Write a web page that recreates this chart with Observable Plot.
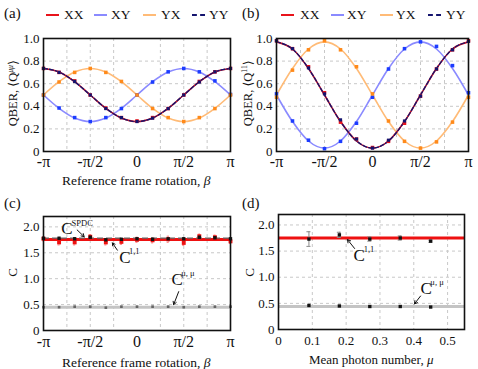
<!DOCTYPE html>
<html><head><meta charset="utf-8">
<script src="https://cdn.jsdelivr.net/npm/d3@7"></script>
<script src="https://cdn.jsdelivr.net/npm/@observablehq/plot@0.6"></script>
<style>
body{margin:0;background:#fff;}
#fig{position:relative;width:478px;height:369px;font-family:"Times New Roman","Liberation Serif","DejaVu Serif",serif;color:#111;overflow:hidden}
.p{position:absolute}
.t{position:absolute;white-space:nowrap;line-height:1}
.sw{position:absolute;width:13px;height:0;border-top:2px solid}
sup{font-size:0.62em;vertical-align:0.55em;line-height:0}
</style></head><body><div id="fig"></div>
<script>
// ---- data ----
const betaSteps = [-6,-5,-4,-3,-2,-1,0,1,2,3,4,5,6]; // units of pi/6
const betaTicks = [-Math.PI, -Math.PI/2, 0, Math.PI/2, Math.PI];
const betaTickLabels = ["-π","-π/2","0","π/2","π"];
const betaGrid = [-3,-2,-1,1,2,3].map(k => k*Math.PI/4);

// panel (a) theory curves sampled at the data positions
const aFitXX = [0.735,0.7035,0.6175,0.5,0.3825,0.2965,0.265,0.2965,0.3825,0.5,0.6175,0.7035,0.735];
const aFitXY = [0.5,0.3825,0.2965,0.265,0.2965,0.3825,0.5,0.6175,0.7035,0.735,0.7035,0.6175,0.5];
const aFitYX = [0.5,0.6175,0.7035,0.735,0.7035,0.6175,0.5,0.3825,0.2965,0.265,0.2965,0.3825,0.5];
const aXX = [0.735,0.70,0.625,0.50,0.385,0.30,0.27,0.30,0.38,0.50,0.62,0.705,0.735];
const aYY = [0.735,0.70,0.62,0.50,0.38,0.30,0.265,0.295,0.38,0.50,0.615,0.705,0.735];
const aXY = [0.50,0.385,0.30,0.265,0.30,0.38,0.50,0.615,0.705,0.735,0.705,0.625,0.505];
const aYX = [0.50,0.615,0.70,0.735,0.70,0.62,0.50,0.38,0.30,0.265,0.30,0.38,0.50];

// panel (b)
const bFitXX = [0.97,0.907,0.735,0.5,0.265,0.093,0.03,0.093,0.265,0.5,0.735,0.907,0.97];
const bFitXY = [0.5,0.265,0.093,0.03,0.093,0.265,0.5,0.735,0.907,0.97,0.907,0.735,0.5];
const bFitYX = [0.5,0.735,0.907,0.97,0.907,0.735,0.5,0.265,0.093,0.03,0.093,0.265,0.5];
const bXX = [0.98,0.91,0.75,0.52,0.26,0.11,0.035,0.09,0.25,0.49,0.73,0.90,0.98];
const bYY = [0.98,0.91,0.74,0.51,0.28,0.11,0.03,0.10,0.27,0.49,0.73,0.90,0.975];
const bXY = [0.51,0.27,0.10,0.025,0.09,0.25,0.48,0.73,0.91,0.97,0.93,0.76,0.52];
const bYX = [0.48,0.72,0.90,0.98,0.90,0.75,0.51,0.27,0.09,0.03,0.085,0.26,0.48];
const qTicks = [0,0.2,0.4,0.6,0.8,1.0];
const qTickLabels = ["0","0.2","0.4","0.6","0.8","1.0"];

// panel (c)
const cOne = [1.77,1.70,1.70,1.81,1.70,1.71,1.75,1.74,1.76,1.69,1.82,1.80,1.72];
const cOneErr = [0.04,0.05,0.05,0.04,0.05,0.05,0.05,0.05,0.06,0.05,0.04,0.04,0.04];
const cSpdc = [1.78,1.78,1.77,1.80,1.75,1.76,1.77,1.76,1.77,1.77,1.80,1.79,1.77];
const cSpdcErr = [0.02,0.02,0.02,0.02,0.02,0.02,0.02,0.02,0.02,0.02,0.02,0.02,0.02];
const cMu = [0.45,0.45,0.46,0.46,0.44,0.46,0.46,0.46,0.46,0.45,0.46,0.46,0.46];
const cLineOne = 1.755, cLineSpdc = 1.782, cLineMu = 0.45;

// panel (d)
const muVals = [0.09,0.18,0.27,0.36,0.45];
const dOne = [1.73,1.81,1.73,1.75,1.69];
const dOneErr = [0.14,0.05,0.04,0.04,0.02];
const dMu = [0.46,0.45,0.44,0.44,0.43];
const dLineOne = 1.75, dLineMu = 0.44;
const muTicks = [0,0.1,0.2,0.3,0.4,0.5];
const muTickLabels = ["0","0.1","0.2","0.3","0.4","0.5"];
const cTicks = [0,0.5,1.0,1.5,2.0];
const cTickLabels = ["0","0.5","1.0","1.5","2.0"];

// annotations (data coordinates; beta in units of pi for panel c)
const cAnno = [
  {x:-0.81, y:1.96, sx:-0.70, sy:2.07, sup:"SPDC", ax1:-0.64, ay1:1.94, ax2:-0.565, ay2:1.81},
  {x:-0.19, y:1.40, sx:-0.086, sy:1.52, sup:"1,1", ax1:-0.21, ay1:1.55, ax2:-0.263, ay2:1.69},
  {x:0.37, y:0.99, sx:0.473, sy:1.10, sup:"μ, μ", ax1:0.446, ay1:0.75, ax2:0.392, ay2:0.50}
];
const dAnno = [
  {x:0.222, y:1.42, sx:0.252, sy:1.53, sup:"1,1", ax1:0.225, ay1:1.55, ax2:0.204, ay2:1.72},
  {x:0.42, y:0.78, sx:0.449, sy:0.90, sup:"μ, μ", ax1:0.42, ay1:0.64, ax2:0.402, ay2:0.49}
];

// ---- build ----
const fig = document.getElementById("fig");
const FONT = '"Times New Roman","Liberation Serif","DejaVu Serif",serif';
const beta = betaSteps.map(k => k*Math.PI/6);
const PI = Math.PI;

function rows(...cols){ return beta.map((b,i)=>{ const o={b}; cols.forEach(([k,a])=>o[k]=a[i]); return o; }); }

const COL = {XX:"#e8131b", XYl:"#8a8aff", YXl:"#ffbb77", YY:"#14146e", XYd:"#1c3cff", YXd:"#ff8a1a"};

function frameMarks(){ return [Plot.frame({stroke:"#111", strokeWidth:1.6})]; }

function place(svg, left, top){
  svg.classList.add("p"); svg.style.left=left+"px"; svg.style.top=top+"px";
  fig.appendChild(svg);
}
function text(html, left, top, size, extra){
  const d=document.createElement("div"); d.className="t"; d.innerHTML=html;
  d.style.left=left+"px"; d.style.top=top+"px"; d.style.fontSize=size+"px";
  if(extra) Object.assign(d.style, extra);
  fig.appendChild(d); return d;
}

const grid = {stroke:"#c8c8c8", strokeOpacity:1, strokeDasharray:"3,3"};

function qberPanel(fitXX, fitXY, fitYX, dXX, dYY, dXY, dYX){
  const fit = rows(["XX",fitXX],["XY",fitXY],["YX",fitYX]);
  const pts = rows(["XX",dXX],["YY",dYY],["XY",dXY],["YX",dYX]);
  return [
    Plot.gridX(betaGrid, grid),
    Plot.gridY([0.2,0.4,0.6,0.8], grid),
    Plot.line(fit, {x:"b", y:"XY", curve:"monotone-x", stroke:COL.XYl, strokeWidth:1.6}),
    Plot.line(fit, {x:"b", y:"YX", curve:"monotone-x", stroke:COL.YXl, strokeWidth:1.6}),
    Plot.line(fit, {x:"b", y:"XX", curve:"monotone-x", stroke:COL.XX, strokeWidth:1.6}),
    Plot.line(fit, {x:"b", y:"XX", curve:"monotone-x", stroke:COL.YY, strokeWidth:1.4, strokeDasharray:"4,2"}),
    Plot.dot(pts, {x:"b", y:"XY", r:2, fill:COL.XYd, symbol:"square"}),
    Plot.dot(pts, {x:"b", y:"YX", r:2, fill:COL.YXd, symbol:"square"}),
    Plot.dot(pts, {x:"b", y:"XX", r:2, fill:COL.XX, symbol:"square"}),
    Plot.dot(pts, {x:"b", y:"YY", r:1.8, fill:COL.YY, symbol:"square"}),
    ...frameMarks(),
    Plot.axisX(betaTicks, {tickSize:0, tickPadding:4, fontSize:16, fontFamily:FONT, tickFormat:d=>betaTickLabels[betaTicks.indexOf(d)], label:null}),
    Plot.axisY(qTicks, {tickSize:0, tickPadding:4, fontSize:13, fontFamily:FONT, tickFormat:d=>qTickLabels[qTicks.indexOf(d)], label:null})
  ];
}

function mkPlot(o){
  return Plot.plot({
    width:o.w, height:o.h, marginLeft:o.ml, marginRight:o.mr, marginTop:o.mt, marginBottom:o.mb,
    x:{domain:o.xd}, y:{domain:o.yd},
    style:{fontFamily:FONT, fontSize:"13px", background:"transparent", color:"#111", overflow:"visible"},
    marks:o.marks
  });
}

// (a)
place(mkPlot({w:239,h:185,ml:43,mr:9,mt:38,mb:34,xd:[-PI,PI],yd:[0,1],
  marks:qberPanel(aFitXX,aFitXY,aFitYX,aXX,aYY,aXY,aYX)}),0,0);
// (b)
place(mkPlot({w:240,h:185,ml:38,mr:10,mt:38,mb:34,xd:[-PI,PI],yd:[0,1],
  marks:qberPanel(bFitXX,bFitXY,bFitYX,bXX,bYY,bXY,bYX)}),238,0);

function annoMarks(anno, xf){
  return [
    Plot.arrow(anno, {x1:d=>xf(d.ax1), y1:"ay1", x2:d=>xf(d.ax2), y2:"ay2", stroke:"#111", strokeWidth:1, headLength:5, inset:0}),
    Plot.text(anno, {x:d=>xf(d.x), y:"y", text:()=> "C", textAnchor:"start", fontSize:17, fontFamily:FONT, fill:"#111"}),
    Plot.text(anno, {x:d=>xf(d.sx), y:"sy", text:"sup", textAnchor:"start", fontSize:8.5, fontFamily:FONT, fill:"#111"})
  ];
}

// (c)
{
  const pts = rows(["one",cOne],["oe",cOneErr],["sp",cSpdc],["se",cSpdcErr],["mu",cMu]);
  const cap = 0.035;
  place(mkPlot({w:239,h:184,ml:43,mr:9,mt:31,mb:39,xd:[-PI,PI],yd:[0,2.2],
    marks:[
      Plot.gridX(betaGrid, grid),
      Plot.gridY([0.5,1.0,1.5,2.0], grid),
      Plot.ruleY([cLineMu], {stroke:"#c4c4c4", strokeWidth:3}),
      Plot.ruleX(pts, {x:"b", y1:d=>d.one-d.oe, y2:d=>d.one+d.oe, stroke:"#ff8a8a", strokeWidth:1}),
      Plot.ruleY(pts, {y:d=>d.one-d.oe, x1:d=>d.b-cap, x2:d=>d.b+cap, stroke:"#ff8a8a", strokeWidth:1}),
      Plot.ruleY(pts, {y:d=>d.one+d.oe, x1:d=>d.b-cap, x2:d=>d.b+cap, stroke:"#ff8a8a", strokeWidth:1}),
      Plot.ruleY([cLineOne], {stroke:"#ee1111", strokeWidth:3}),
      Plot.ruleY([cLineSpdc], {stroke:"#666", strokeWidth:1.4, strokeDasharray:"6,3"}),
      Plot.ruleX(pts, {x:"b", y1:d=>d.sp-d.se, y2:d=>d.sp+d.se, stroke:"#555", strokeWidth:1}),
      Plot.dot(pts, {x:"b", y:"one", r:2.2, fill:"#ee1111", symbol:"square"}),
      Plot.dot(pts, {x:"b", y:"sp", r:1.9, fill:"#111", symbol:"square"}),
      Plot.dot(pts, {x:"b", y:"mu", r:1.5, fill:"#666", symbol:"square"}),
      ...annoMarks(cAnno, v=>v*PI),
      ...frameMarks(),
      Plot.axisX(betaTicks, {tickSize:0, tickPadding:5, fontSize:16, fontFamily:FONT, tickFormat:d=>betaTickLabels[betaTicks.indexOf(d)], label:null}),
      Plot.axisY(cTicks, {tickSize:0, tickPadding:4, fontSize:13, fontFamily:FONT, tickFormat:d=>cTickLabels[cTicks.indexOf(d)], label:null})
    ]}),0,185);
}

// (d)
{
  const pts = muVals.map((m,i)=>({m, one:dOne[i], oe:dOneErr[i], mu:dMu[i]}));
  const cap = 0.006;
  place(mkPlot({w:240,h:184,ml:40,mr:14,mt:29,mb:40,xd:[0,0.55],yd:[0,2.2],
    marks:[
      Plot.gridX([0.1,0.2,0.3,0.4,0.5], grid),
      Plot.gridY([0.5,1.0,1.5,2.0], grid),
      Plot.ruleY([dLineMu], {stroke:"#c4c4c4", strokeWidth:3}),
      Plot.ruleY([dLineOne], {stroke:"#ee1111", strokeWidth:3}),
      Plot.ruleX(pts, {x:"m", y1:d=>d.one-d.oe, y2:d=>d.one+d.oe, stroke:"#888", strokeWidth:1}),
      Plot.ruleY(pts, {y:d=>d.one-d.oe, x1:d=>d.m-cap, x2:d=>d.m+cap, stroke:"#888", strokeWidth:1}),
      Plot.ruleY(pts, {y:d=>d.one+d.oe, x1:d=>d.m-cap, x2:d=>d.m+cap, stroke:"#888", strokeWidth:1}),
      Plot.dot(pts, {x:"m", y:"one", r:1.9, fill:"#111", symbol:"square"}),
      Plot.dot(pts, {x:"m", y:"mu", r:1.9, fill:"#111", symbol:"square"}),
      ...annoMarks(dAnno, v=>v),
      ...frameMarks(),
      Plot.axisX(muTicks, {tickSize:0, tickPadding:6, fontSize:13, fontFamily:FONT, tickFormat:d=>muTickLabels[muTicks.indexOf(d)], label:null}),
      Plot.axisY(cTicks, {tickSize:0, tickPadding:4, fontSize:13, fontFamily:FONT, tickFormat:d=>cTickLabels[cTicks.indexOf(d)], label:null})
    ]}),238,185);
}

// ---- text: panel labels, legends, axis labels ----
text("(a)",4,6,15); text("(b)",242,6,15); text("(c)",4,196,15); text("(d)",242,196,15);

function legend(x0, pos){
  const items=[["XX",COL.XX,"solid"],["XY",COL.XYl,"solid"],["YX",COL.YXl,"solid"],["YY",COL.YY,"dashed"]];
  items.forEach(([lab,c,st],i)=>{
    const s=document.createElement("div"); s.className="sw";
    s.style.left=(x0+pos[i][0])+"px"; s.style.top="14px"; s.style.borderTopColor=c; s.style.borderTopStyle=st;
    fig.appendChild(s);
    text(lab, x0+pos[i][1], 8, 13.5);
  });
}
legend(0, [[46,64],[94,111],[143,161],[192,209]]);
legend(238, [[43,62],[93,109],[142,158],[190,208]]);

const xl = (html, cx, cy, size) => { const d=text(html,0,0,size); d.style.left=(cx-d.offsetWidth/2)+"px"; d.style.top=(cy-d.offsetHeight/2)+"px"; return d; };
xl("Reference frame rotation, <i>β</i>",136,181,13.5);
xl("Reference frame rotation, <i>β</i>",136,363,13.5);
xl("Mean photon number, <i>μ</i>",371,359,13);

function yl(html, cx, cy, size){
  const d=text(html,0,0,size);
  const w=d.offsetWidth, h=d.offsetHeight;
  d.style.left=(cx-w/2)+"px"; d.style.top=(cy-h/2)+"px"; d.style.transform="rotate(-90deg)";
  return d;
}
yl("QBER, ⟨Q<sup><i>μμ</i></sup>⟩",13,93,12.5);
yl("QBER, ⟨Q<sup>11</sup>⟩",248,93,12.5);
yl("C",12,272,13);
yl("C",249,272,13);
</script></body></html>
